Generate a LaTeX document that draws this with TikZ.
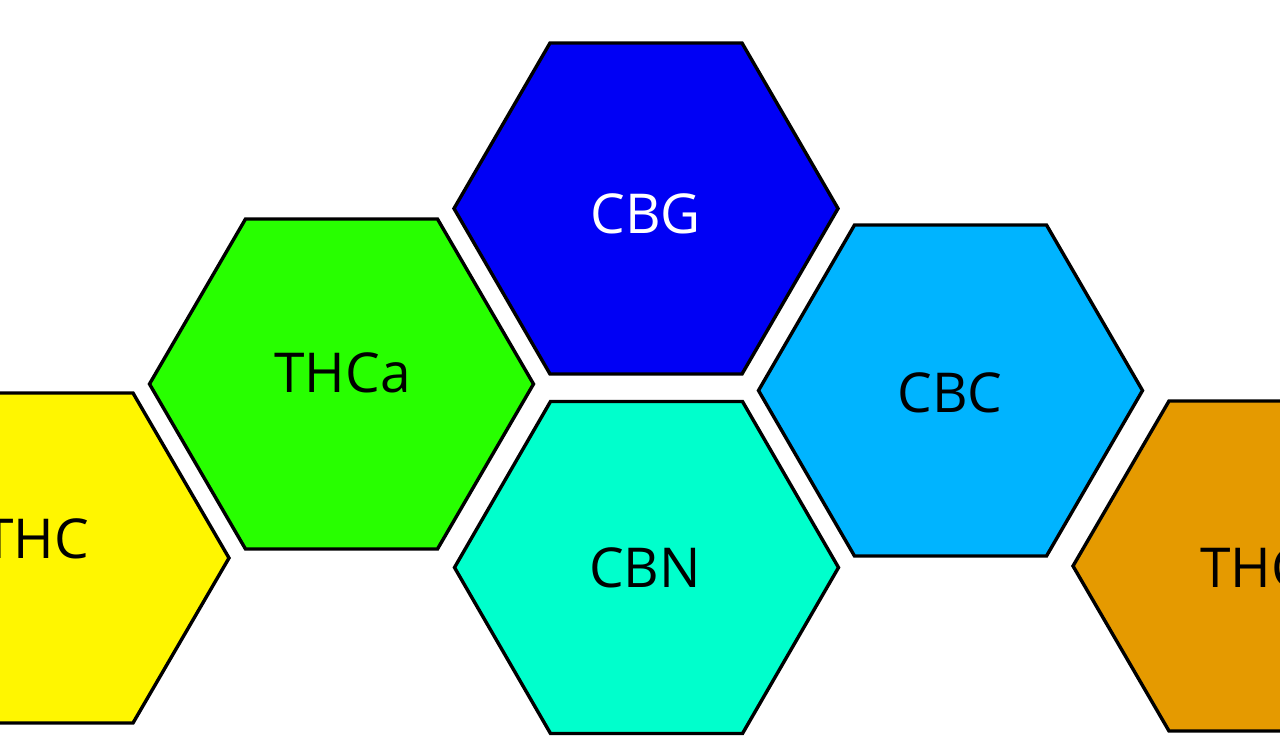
\documentclass[tikz,border=0pt]{standalone}
\usepackage{fontspec}
\setmainfont{Open Sans}
\definecolor{hexyellow}{RGB}{255,246,0}
\definecolor{hexgreen}{RGB}{40,255,0}
\definecolor{hexblue}{RGB}{0,0,245}
\definecolor{hexmint}{RGB}{0,255,204}
\definecolor{hexsky}{RGB}{0,180,255}
\definecolor{hexorange}{RGB}{229,154,0}
\tikzset{
  hexline/.style={draw=black, line width=3.4pt, line join=miter},
  hexlabel/.style={anchor=base, inner sep=0pt, font=\fontsize{55}{60}\selectfont},
}
\newcommand{\hexat}[4]{% color, cx, cy, h
  \path[hexline, fill=#1] ({#2-192},{#3}) -- ({#2-96},{#3-#4}) -- ({#2+96},{#3-#4}) -- ({#2+192},{#3}) -- ({#2+96},{#3+#4}) -- ({#2-96},{#3+#4}) -- cycle;}
\begin{document}
\begin{tikzpicture}[x=1pt,y=-1pt]
\useasboundingbox (0,0) rectangle (1280,748);
\begin{scope}
\clip (0,0) rectangle (1280,748);
\hexat{hexyellow}{37}{558}{165}
\hexat{hexgreen}{341.5}{384}{165}
\hexat{hexblue}{646}{208.5}{165.5}
\hexat{hexmint}{646.5}{567.5}{166}
\hexat{hexsky}{950.5}{390.5}{165.5}
\hexat{hexorange}{1265}{566}{165}
\node[hexlabel] (thc) at (36,558) {THC};
\node[hexlabel] (thca) at (342.5,392) {THCa};
\node[hexlabel, text=white] (cbg) at (645.5,233) {CBG};
\node[hexlabel] (cbn) at (645,587) {CBN};
\node[hexlabel] (cbc) at (950,412) {CBC};
\node[hexlabel] (thcb) at (1253,587) {THC};
\end{scope}
\end{tikzpicture}
\end{document}
